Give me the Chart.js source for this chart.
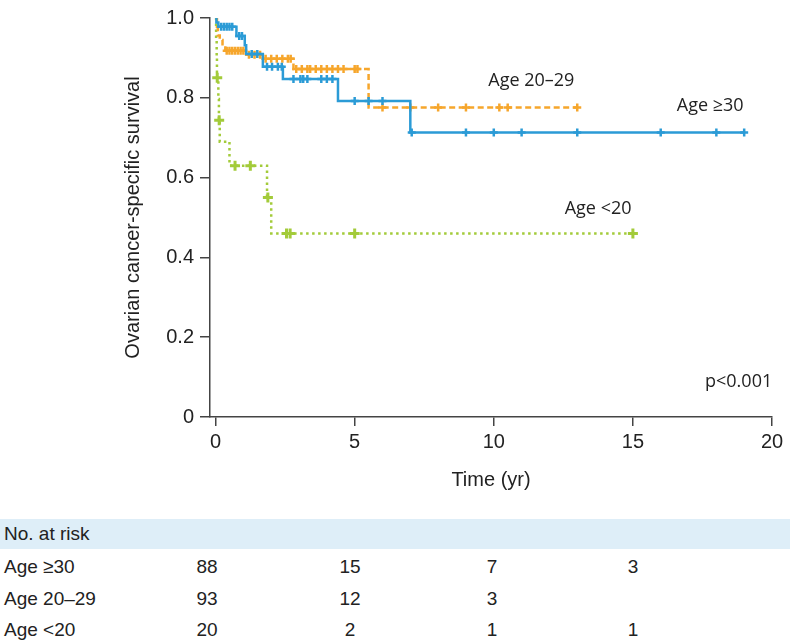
<!DOCTYPE html>
<html>
<head>
<meta charset="utf-8">
<script src="https://cdn.jsdelivr.net/npm/chart.js@4"></script>
<style>
  body { margin: 0; background: #fff; }
  #wrap { position: relative; width: 790px; height: 641px; overflow: hidden; }
  #km { position: absolute; left: 0; top: 0; }
  .band { position: absolute; left: 0; top: 519px; width: 790px; height: 30px; background: #deeef8; }
  .cell { position: absolute; font-family: 'Liberation Sans Narrow', 'Liberation Sans', sans-serif; font-size: 19px; color: #222; line-height: 20px; transform: translateY(-50%); white-space: nowrap; }
  .num { transform: translate(-50%, -50%); }
</style>
</head>
<body>
<div id="wrap">
  <canvas id="km" width="790" height="500"></canvas>
  <div class="band"></div>
</div>
<script>
// Axis ticks
const xTicks = [0, 5, 10, 15, 20];
const yTicks = [0, 0.2, 0.4, 0.6, 0.8, 1.0];
const yTickLabels = ['0', '0.2', '0.4', '0.6', '0.8', '1.0'];

// Age >=30 (solid blue)
const olderTimes = [0, 0.03, 0.1, 0.75, 1.05, 1.1, 1.7, 2.42, 4.4, 7.0, 19.0];
const olderSurv = [1.0, 0.989, 0.978, 0.955, 0.932, 0.91, 0.878, 0.847, 0.792, 0.713, 0.713];
const olderCensor = [0.2, 0.3, 0.4, 0.5, 0.6, 0.85, 0.95, 1.3, 1.5, 1.85, 2.03, 2.24, 2.38, 2.8, 3.05, 3.15, 3.3, 3.8, 4.0, 4.2, 5.0, 5.5, 6.0, 7.05, 9.0, 10.0, 11.0, 13.0, 16.0, 18.0, 19.0];

// Age 20-29 (dashed orange)
const midTimes = [0, 0.05, 0.08, 0.15, 0.25, 0.35, 1.1, 1.7, 2.8, 5.5, 13.0];
const midSurv = [1.0, 0.978, 0.956, 0.945, 0.934, 0.918, 0.908, 0.898, 0.872, 0.776, 0.776];
const midCensor = [0.4, 0.5, 0.6, 0.7, 0.8, 0.9, 1.0, 1.2, 1.4, 1.6, 1.8, 2.0, 2.2, 2.4, 2.6, 2.7, 2.9, 3.1, 3.3, 3.4, 3.6, 3.8, 4.0, 4.2, 4.4, 4.6, 5.0, 5.1, 6.0, 7.0, 8.0, 9.0, 10.2, 10.5, 13.0];

// Age <20 (dotted green)
const youngTimes = [0, 0.02, 0.04, 0.05, 0.1, 0.12, 0.15, 0.5, 1.85, 2.0, 15.0];
const youngSurv = [1.0, 0.95, 0.90, 0.85, 0.797, 0.744, 0.69, 0.63, 0.55, 0.46, 0.46];
const youngCensor = [0.06, 0.13, 0.7, 1.25, 1.88, 2.55, 2.68, 5.0, 15.0];

// Numbers at risk
const riskGroups = ['Age ≥30', 'Age 20–29', 'Age <20'];
const riskOlder = [88, 15, 7, 3];
const riskMid = [93, 12, 3, null];
const riskYoung = [20, 2, 1, 1];

const colors = {
    older: '#2b9bd6',
    mid: '#f6a62c',
    young: '#a3cb3a',
    text: '#222',
    axis: '#444',
};

function toPoints(times, surv) {
    return times.map((t, i) => ({ x: t, y: surv[i] }));
}

// y of the step curve at a censor time
function censorPoints(censor, times, surv) {
    return censor.map(t => {
        let s = surv[0];
        for (let i = 0; i < times.length; i++) {
            if (times[i] <= t) s = surv[i];
        }
        return { x: t, y: s };
    });
}

function curve(label, times, surv, color, dash) {
    return {
        type: 'line',
        label: label,
        data: toPoints(times, surv),
        borderColor: color,
        borderWidth: 2.5,
        borderDash: dash,
        borderCapStyle: 'butt',
        stepped: 'before',
        pointRadius: 0,
        fill: false,
    };
}

function marks(label, censor, times, surv, color, size, width) {
    return {
        type: 'scatter',
        label: label,
        data: censorPoints(censor, times, surv),
        pointStyle: 'cross',
        pointRadius: size,
        pointBorderWidth: width,
        borderColor: color,
        backgroundColor: color,
    };
}

const notes = [
    { text: 'Age 20–29', x: 11.35, y: 0.842 },
    { text: 'Age ≥30', x: 17.78, y: 0.78 },
    { text: 'Age <20', x: 13.75, y: 0.522 },
    { text: 'p<0.001', x: 18.8, y: 0.088 },
];

const notePlugin = {
    id: 'notes',
    afterDatasetsDraw(chart) {
        const { ctx, scales } = chart;
        ctx.save();
        ctx.font = '18px "Open Sans", sans-serif';
        ctx.fillStyle = colors.text;
        ctx.textAlign = 'center';
        ctx.textBaseline = 'middle';
        notes.forEach(n => {
            ctx.fillText(n.text, scales.x.getPixelForValue(n.x), scales.y.getPixelForValue(n.y));
        });
        ctx.restore();
    }
};

const axisFont = { family: "'Liberation Sans', Arial, sans-serif", size: 20 };
const titleFont = { family: "'Liberation Sans', Arial, sans-serif", size: 20 };

new Chart(document.getElementById('km'), {
    data: {
        datasets: [
            curve('Age ≥30', olderTimes, olderSurv, colors.older, []),
            marks('Age ≥30 censored', olderCensor, olderTimes, olderSurv, colors.older, 4, 2.5),
            curve('Age 20–29', midTimes, midSurv, colors.mid, [6, 3.5]),
            marks('Age 20–29 censored', midCensor, midTimes, midSurv, colors.mid, 4, 2.5),
            curve('Age <20', youngTimes, youngSurv, colors.young, [2.5, 3.5]),
            marks('Age <20 censored', youngCensor, youngTimes, youngSurv, colors.young, 5, 3),
        ]
    },
    options: {
        responsive: false,
        animation: false,
        devicePixelRatio: 1,
        layout: { padding: { left: 110, top: 13, right: 18, bottom: 0 } },
        plugins: {
            legend: { display: false },
            tooltip: { enabled: false },
        },
        scales: {
            x: {
                type: 'linear',
                min: -0.2,
                max: 20,
                afterBuildTicks: s => { s.ticks = xTicks.map(v => ({ value: v })); },
                afterFit: s => { s.height = 83; },
                ticks: { font: axisFont, color: colors.text, padding: 4, maxRotation: 0 },
                grid: { drawOnChartArea: false, drawTicks: true, tickLength: 9, color: colors.axis, lineWidth: 1.5 },
                border: { display: true, color: colors.axis, width: 1.5 },
                title: { display: true, text: 'Time (yr)', font: titleFont, color: colors.text, padding: { top: 0, bottom: 8 } },
            },
            y: {
                type: 'linear',
                min: 0,
                max: 1,
                afterBuildTicks: s => { s.ticks = yTicks.map(v => ({ value: v })); },
                afterFit: s => { s.width = 100; },
                ticks: {
                    font: axisFont,
                    color: colors.text,
                    padding: 6,
                    callback: v => yTickLabels[yTicks.findIndex(t => Math.abs(t - v) < 1e-9)],
                },
                grid: { drawOnChartArea: false, drawTicks: true, tickLength: 10, color: colors.axis, lineWidth: 1.5 },
                border: { display: true, color: colors.axis, width: 1.5 },
                title: { display: true, text: 'Ovarian cancer-specific survival', font: titleFont, color: colors.text, padding: { top: 11, bottom: 0 } },
            }
        }
    },
    plugins: [notePlugin]
});

// Risk table below the plot
const wrap = document.getElementById('wrap');
const colX = [207, 350, 492, 633];
const rowY = [567, 599, 630];
const riskRows = [riskOlder, riskMid, riskYoung];

function addCell(text, left, top, isNum) {
    const d = document.createElement('div');
    d.className = isNum ? 'cell num' : 'cell';
    d.style.left = left + 'px';
    d.style.top = top + 'px';
    d.textContent = text;
    wrap.appendChild(d);
}

addCell('No. at risk', 4, 534, false);
riskGroups.forEach((g, r) => {
    addCell(g, 4, rowY[r], false);
    riskRows[r].forEach((n, c) => {
        if (n !== null) addCell(String(n), colX[c], rowY[r], true);
    });
});
</script>
</body>
</html>
